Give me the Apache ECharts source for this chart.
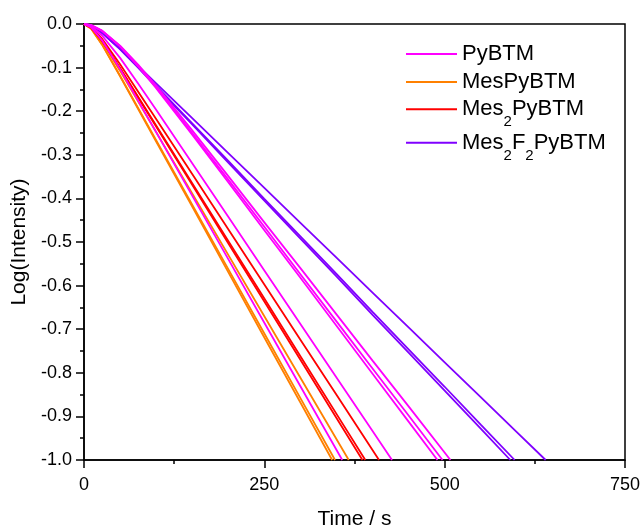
<!DOCTYPE html>
<html>
<head>
<meta charset="utf-8">
<script src="https://cdn.jsdelivr.net/npm/echarts@6/dist/echarts.min.js"></script>
<style>
html,body{margin:0;padding:0;background:#fff;}
#c{width:643px;height:527px;}
</style>
</head>
<body>
<div id="c"></div>
<script>
// ---- data: [time (s), Log(Intensity)] ----
const PyBTM_1 = [[0,0],[10,-0.0079],[25,-0.0374],[50,-0.1035],[100,-0.2478],[150,-0.3936],[200,-0.5394],[250,-0.6851],[300,-0.8309],[358,-1.0]];
const PyBTM_2 = [[0,0],[10,-0.0052],[25,-0.0264],[50,-0.0777],[75,-0.1363],[100,-0.1968],[150,-0.3194],[200,-0.4423],[250,-0.5651],[300,-0.688],[350,-0.8108],[400,-0.9337],[427,-1.0]];
const PyBTM_3 = [[0,0],[10,-0.0029],[25,-0.0157],[50,-0.0514],[75,-0.097],[100,-0.147],[150,-0.254],[200,-0.363],[250,-0.473],[300,-0.582],[350,-0.692],[400,-0.802],[450,-0.912],[490,-1.0]];
const PyBTM_4 = [[0,0],[10,-0.0028],[25,-0.0155],[50,-0.0507],[75,-0.0955],[100,-0.145],[150,-0.250],[200,-0.357],[250,-0.465],[300,-0.574],[350,-0.682],[400,-0.790],[450,-0.898],[497,-1.0]];
const PyBTM_5 = [[0,0],[10,-0.0027],[25,-0.0151],[50,-0.0495],[75,-0.0932],[100,-0.142],[150,-0.244],[200,-0.349],[250,-0.455],[300,-0.560],[350,-0.666],[400,-0.772],[450,-0.877],[508,-1.0]];

const MesPyBTM_1 = [[0,0],[10,-0.011],[25,-0.0474],[50,-0.120],[100,-0.2695],[150,-0.419],[200,-0.569],[250,-0.719],[300,-0.868],[344,-1.0]];
const MesPyBTM_2 = [[0,0],[10,-0.0109],[25,-0.0468],[50,-0.1186],[100,-0.2663],[150,-0.4142],[200,-0.5621],[250,-0.710],[300,-0.858],[348,-1.0]];
const MesPyBTM_3 = [[0,0],[10,-0.009],[25,-0.0408],[50,-0.1076],[100,-0.2479],[150,-0.3887],[200,-0.5296],[250,-0.6704],[300,-0.8113],[367,-1.0]];

const Mes2PyBTM_1 = [[0,0],[10,-0.0086],[25,-0.0387],[50,-0.1021],[100,-0.2353],[150,-0.369],[200,-0.5027],[250,-0.6364],[300,-0.770],[350,-0.9037],[386,-1.0]];
const Mes2PyBTM_2 = [[0,0],[10,-0.0085],[25,-0.0383],[50,-0.1011],[100,-0.2328],[150,-0.3651],[200,-0.4974],[250,-0.6296],[300,-0.7619],[350,-0.8942],[390,-1.0]];
const Mes2PyBTM_3 = [[0,0],[10,-0.0072],[25,-0.0338],[50,-0.0921],[100,-0.2177],[150,-0.3443],[200,-0.4709],[250,-0.5975],[300,-0.7241],[350,-0.8506],[409,-1.0]];

const Mes2F2PyBTM_1 = [[0,0],[10,-0.004],[25,-0.020],[50,-0.058],[75,-0.100],[100,-0.144],[150,-0.230],[200,-0.318],[250,-0.405],[300,-0.492],[350,-0.579],[400,-0.667],[450,-0.754],[500,-0.841],[550,-0.928],[591,-1.0]];
const Mes2F2PyBTM_2 = [[0,0],[10,-0.004],[25,-0.0199],[50,-0.0572],[75,-0.099],[100,-0.142],[150,-0.228],[200,-0.314],[250,-0.401],[300,-0.487],[350,-0.573],[400,-0.660],[450,-0.746],[500,-0.832],[550,-0.919],[597,-1.0]];
const Mes2F2PyBTM_3 = [[0,0],[10,-0.0043],[25,-0.0205],[50,-0.0568],[75,-0.096],[100,-0.136],[150,-0.216],[200,-0.296],[250,-0.376],[300,-0.456],[350,-0.536],[400,-0.616],[450,-0.696],[500,-0.776],[550,-0.856],[600,-0.936],[640,-1.0]];

const seriesNames = ['PyBTM','MesPyBTM','Mes2PyBTM','Mes2F2PyBTM'];
const seriesColors = {PyBTM:'#ff00ff', MesPyBTM:'#ff8000', Mes2PyBTM:'#ff0000', Mes2F2PyBTM:'#8000ff'};
const groups = [
  ['Mes2F2PyBTM',[Mes2F2PyBTM_1,Mes2F2PyBTM_2,Mes2F2PyBTM_3]],
  ['MesPyBTM',[MesPyBTM_1,MesPyBTM_2,MesPyBTM_3]],
  ['Mes2PyBTM',[Mes2PyBTM_1,Mes2PyBTM_2,Mes2PyBTM_3]],
  ['PyBTM',[PyBTM_1,PyBTM_2,PyBTM_3,PyBTM_4,PyBTM_5]]
];
const xTicks = {min:0, max:750, interval:250};
const yTicks = {min:-1, max:0, interval:0.1};

const FONT = 'Liberation Sans, Arial, sans-serif';
const legendLabel = {
  PyBTM: '{n|PyBTM}',
  MesPyBTM: '{n|MesPyBTM}',
  Mes2PyBTM: '{m|Mes}{s|2}{m|PyBTM}',
  Mes2F2PyBTM: '{m|Mes}{s|2}{m|F}{s|2}{m|PyBTM}'
};
const legendTop = {PyBTM:43, MesPyBTM:71, Mes2PyBTM:88.8, Mes2F2PyBTM:122.2};

const series = [];
groups.forEach(([name, lines]) => {
  lines.forEach(d => {
    series.push({
      type:'line', name:name, data:d, symbol:'none', showSymbol:false,
      animation:false, clip:true,
      lineStyle:{color:seriesColors[name], width:1.8},
      itemStyle:{color:seriesColors[name]}
    });
  });
});

const legends = seriesNames.map(nm => ({
  data:[nm], orient:'vertical', left:406, top:legendTop[nm], padding:0,
  icon:'rect', itemWidth:51, itemHeight:2, selectedMode:false,
  formatter: v => legendLabel[v],
  textStyle:{
    color:'#000', fontFamily:FONT, fontSize:22,
    rich:{
      n:{fontSize:22, lineHeight:22, fontFamily:FONT, color:'#000'},
      m:{fontSize:22, lineHeight:41, fontFamily:FONT, color:'#000'},
      s:{fontSize:15, lineHeight:15, padding:[26,0,0,0], fontFamily:FONT, color:'#000'}
    }
  }
}));

const chart = echarts.init(document.getElementById('c'), null, {renderer:'canvas'});
chart.setOption({
  animation:false,
  backgroundColor:'#fff',
  grid:{left:84, right:18, top:24, bottom:67, containLabel:false, outerBoundsMode:'none', show:true, borderColor:'#000', borderWidth:1.5, backgroundColor:'transparent'},
  legend: legends,
  xAxis:{
    type:'value', min:xTicks.min, max:xTicks.max, interval:xTicks.interval,
    name:'Time / s', nameLocation:'middle', nameGap:49,
    nameTextStyle:{fontSize:21, fontFamily:FONT, color:'#000'},
    axisLine:{onZero:false, lineStyle:{color:'#000', width:1.5}},
    axisTick:{inside:false, length:8, lineStyle:{color:'#000', width:1.5}},
    minorTick:{show:true, splitNumber:2, length:4, lineStyle:{color:'#000', width:1.5}},
    axisLabel:{fontSize:18, fontFamily:FONT, color:'#000', margin:16},
    splitLine:{show:false}
  },
  yAxis:{
    type:'value', min:yTicks.min, max:yTicks.max, interval:yTicks.interval,
    name:'Log(Intensity)', nameLocation:'middle', nameGap:52, nameRotate:90,
    nameTextStyle:{fontSize:21, fontFamily:FONT, color:'#000'},
    axisLine:{onZero:false, lineStyle:{color:'#000', width:1.5}},
    axisTick:{inside:false, length:8, lineStyle:{color:'#000', width:1.5}},
    minorTick:{show:true, splitNumber:2, length:4, lineStyle:{color:'#000', width:1.5}},
    axisLabel:{fontSize:18, fontFamily:FONT, color:'#000', margin:12, formatter:v => v.toFixed(1)},
    splitLine:{show:false}
  },
  series: series
});
</script>
</body>
</html>
